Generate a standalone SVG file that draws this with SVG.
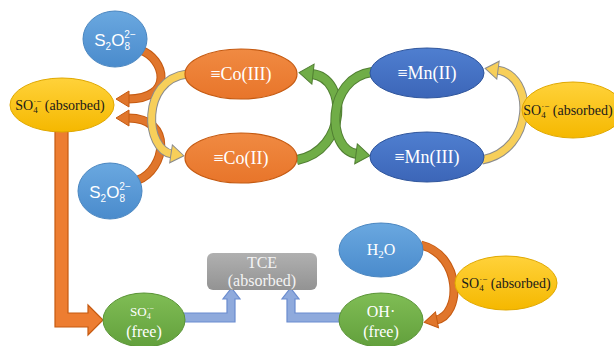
<svg xmlns="http://www.w3.org/2000/svg" width="614" height="346" viewBox="0 0 614 346">
<defs>
  <linearGradient id="gBlue" x1="0" y1="0" x2="0" y2="1"><stop offset="0" stop-color="#6aa8e0"/><stop offset="1" stop-color="#4a8bcc"/></linearGradient>
  <linearGradient id="gNavy" x1="0" y1="0" x2="0" y2="1"><stop offset="0" stop-color="#4f7fd0"/><stop offset="1" stop-color="#3c66b8"/></linearGradient>
  <linearGradient id="gOrange" x1="0" y1="0" x2="0" y2="1"><stop offset="0" stop-color="#f08a42"/><stop offset="1" stop-color="#e8752a"/></linearGradient>
  <linearGradient id="gYellow" x1="0" y1="0" x2="0" y2="1"><stop offset="0" stop-color="#ffd23a"/><stop offset="1" stop-color="#f5b800"/></linearGradient>
  <linearGradient id="gGreen" x1="0" y1="0" x2="0" y2="1"><stop offset="0" stop-color="#80bd55"/><stop offset="1" stop-color="#62a03c"/></linearGradient>
  <linearGradient id="gGray" x1="0" y1="0" x2="0" y2="1"><stop offset="0" stop-color="#b0b0b0"/><stop offset="1" stop-color="#939393"/></linearGradient>
  <marker id="hOrange" markerUnits="userSpaceOnUse" markerWidth="16" markerHeight="18" refX="1" refY="8" orient="auto" overflow="visible">
    <path d="M0,0 L13,8 L0,16 z" fill="#e0762c" stroke="#c55a11" stroke-width="1"/>
  </marker>
  <marker id="hGreen" markerUnits="userSpaceOnUse" markerWidth="18" markerHeight="22" refX="1" refY="10" orient="auto" overflow="visible">
    <path d="M0,0 L14,10 L0,20 z" fill="#70ad47" stroke="#507e32" stroke-width="1"/>
  </marker>
  <marker id="hYellow" markerUnits="userSpaceOnUse" markerWidth="18" markerHeight="22" refX="1" refY="9" orient="auto" overflow="visible">
    <path d="M0,0 L13,9 L0,18 z" fill="#f7cf5a" stroke="#8c8c8c" stroke-width="1"/>
  </marker>
</defs>
<style>
  .serif { font-family: "Liberation Serif", "DejaVu Serif", serif; }
  .sans { font-family: "Liberation Sans", "DejaVu Sans", sans-serif; }
  .wt { fill: #ffffff; }
  .bk { fill: #1a1a1a; }
  .oOut { fill: none; stroke: #c55a11; stroke-width: 9; }
  .oIn { fill: none; stroke: #e0762c; stroke-width: 7; marker-end: url(#hOrange); }
  .gOut { fill: none; stroke: #507e32; stroke-width: 10; }
  .gIn { fill: none; stroke: #70ad47; stroke-width: 8; marker-end: url(#hGreen); }
  .yOut { fill: none; stroke: #8c8c8c; stroke-width: 9; }
  .yIn { fill: none; stroke: #f7cf5a; stroke-width: 7; marker-end: url(#hYellow); }
  .blk-o { fill: #ed7d31; stroke: #c55a11; stroke-width: 1.2; }
  .blk-b { fill: #8faadc; stroke: #6a8ccf; stroke-width: 1.2; }
</style>
<rect width="614" height="346" fill="#ffffff"/>

<g id="connectors">
  <path class="oOut" d="M140,50 C165,58 175,99 128,99"/>
  <path class="oIn" d="M140,50 C165,58 175,99 128,99"/>
  <path class="oOut" d="M138,180 C165,170 175,118 128,118"/>
  <path class="oIn" d="M138,180 C165,170 175,118 128,118"/>
  <path class="yOut" d="M187,74 C140,80 145,150 172,154"/>
  <path class="yIn" d="M187,74 C140,80 145,150 172,154"/>
  <path class="gOut" d="M297,160 C348,150 348,78 312,74"/>
  <path class="gIn" d="M297,160 C348,150 348,78 312,74"/>
  <path class="gOut" d="M372,72 C326,78 326,150 357,154"/>
  <path class="gIn" d="M372,72 C326,78 326,150 357,154"/>
  <path class="yOut" d="M482,160 C535,150 535,75 497,70"/>
  <path class="yIn" d="M482,160 C535,150 535,75 497,70"/>
  <path class="oOut" d="M421,245 C462,255 462,315 436,320"/>
  <path class="oIn" d="M421,245 C462,255 462,315 436,320"/>
  <polygon class="blk-o" points="55,130 68,130 68,313 88,313 88,305 103,320 88,335 88,327 55,327"/>
  <polygon class="blk-b" points="183,313 227,313 227,299 223,299 231.5,288 240,299 235,299 235,322 183,322"/>
  <polygon class="blk-b" points="341,313 295,313 295,299 299,299 290.5,288 282,299 287,299 287,322 341,322"/>
</g>

<g id="s2o8-top">
  <ellipse cx="115" cy="39" rx="32" ry="28" fill="url(#gBlue)" stroke="#4a86c0" stroke-width="1"/>
  <text class="sans wt" x="115" y="46" font-size="17" text-anchor="middle">S<tspan font-size="10" dy="4">2</tspan><tspan dy="-4">O</tspan><tspan font-size="10" dy="4">8</tspan><tspan font-size="10" dx="-5.6" dy="-12">2−</tspan></text>
</g>

<g id="so4-abs-left">
  <ellipse cx="62" cy="105" rx="52" ry="27" fill="url(#gYellow)" stroke="#e0a800" stroke-width="1"/>
  <text class="serif bk" x="60" y="110" font-size="14" text-anchor="middle">SO<tspan font-size="9" dy="3">4</tspan><tspan font-size="9" dx="-4.5" dy="-9">·−</tspan><tspan dy="6"> (absorbed)</tspan></text>
</g>

<g id="co3">
  <ellipse cx="241" cy="74" rx="56" ry="25" fill="url(#gOrange)" stroke="#c55a11" stroke-width="1.2"/>
  <text class="serif wt" x="241" y="80" font-size="18" text-anchor="middle">≡Co(III)</text>
</g>

<g id="co2">
  <ellipse cx="241" cy="158" rx="56" ry="25" fill="url(#gOrange)" stroke="#c55a11" stroke-width="1.2"/>
  <text class="serif wt" x="241" y="164" font-size="18" text-anchor="middle">≡Co(II)</text>
</g>

<g id="s2o8-bottom">
  <ellipse cx="110" cy="191" rx="32" ry="28" fill="url(#gBlue)" stroke="#4a86c0" stroke-width="1"/>
  <text class="sans wt" x="110" y="198" font-size="17" text-anchor="middle">S<tspan font-size="10" dy="4">2</tspan><tspan dy="-4">O</tspan><tspan font-size="10" dy="4">8</tspan><tspan font-size="10" dx="-5.6" dy="-12">2−</tspan></text>
</g>

<g id="mn2">
  <ellipse cx="427" cy="73" rx="57" ry="25" fill="url(#gNavy)" stroke="#2f559c" stroke-width="1"/>
  <text class="serif wt" x="427" y="79" font-size="18" text-anchor="middle">≡Mn(II)</text>
</g>

<g id="mn3">
  <ellipse cx="427" cy="157" rx="57" ry="25" fill="url(#gNavy)" stroke="#2f559c" stroke-width="1"/>
  <text class="serif wt" x="427" y="163" font-size="18" text-anchor="middle">≡Mn(III)</text>
</g>

<g id="so4-abs-right">
  <ellipse cx="573" cy="110" rx="51" ry="28" fill="url(#gYellow)" stroke="#e0a800" stroke-width="1"/>
  <text class="serif bk" x="568" y="115" font-size="14" text-anchor="middle">SO<tspan font-size="9" dy="3">4</tspan><tspan font-size="9" dx="-4.5" dy="-9">·−</tspan><tspan dy="6"> (absorbed)</tspan></text>
</g>

<g id="tce">
  <rect x="207" y="253" width="110" height="37" rx="6" ry="6" fill="url(#gGray)"/>
  <text class="serif" x="262" y="268" font-size="16" fill="#f4f4f4" text-anchor="middle">TCE</text>
  <text class="serif" x="262" y="286" font-size="16" fill="#f4f4f4" text-anchor="middle">(absorbed)</text>
</g>

<g id="so4-free">
  <ellipse cx="144" cy="320" rx="41" ry="27" fill="url(#gGreen)" stroke="#5a9436" stroke-width="1"/>
  <text class="serif wt" x="142" y="316" font-size="13" text-anchor="middle">SO<tspan font-size="8" dy="3">4</tspan><tspan font-size="8" dx="-4" dy="-8">·−</tspan></text>
  <text class="serif wt" x="144" y="337" font-size="16" text-anchor="middle">(free)</text>
</g>

<g id="h2o">
  <ellipse cx="381" cy="250" rx="42" ry="27" fill="url(#gBlue)" stroke="#4a86c0" stroke-width="1"/>
  <text class="serif wt" x="381" y="255" font-size="16" text-anchor="middle">H<tspan font-size="11" dy="3">2</tspan><tspan dy="-3">O</tspan></text>
</g>

<g id="so4-abs-bottom">
  <ellipse cx="506" cy="283" rx="51" ry="27" fill="url(#gYellow)" stroke="#e0a800" stroke-width="1"/>
  <text class="serif bk" x="506" y="288" font-size="14" text-anchor="middle">SO<tspan font-size="9" dy="3">4</tspan><tspan font-size="9" dx="-4.5" dy="-9">·−</tspan><tspan dy="6"> (absorbed)</tspan></text>
</g>

<g id="oh-free">
  <ellipse cx="381" cy="320" rx="42" ry="27" fill="url(#gGreen)" stroke="#5a9436" stroke-width="1"/>
  <text class="serif wt" x="381" y="317" font-size="16" text-anchor="middle">OH·</text>
  <text class="serif wt" x="381" y="337" font-size="16" text-anchor="middle">(free)</text>
</g>
</svg>
